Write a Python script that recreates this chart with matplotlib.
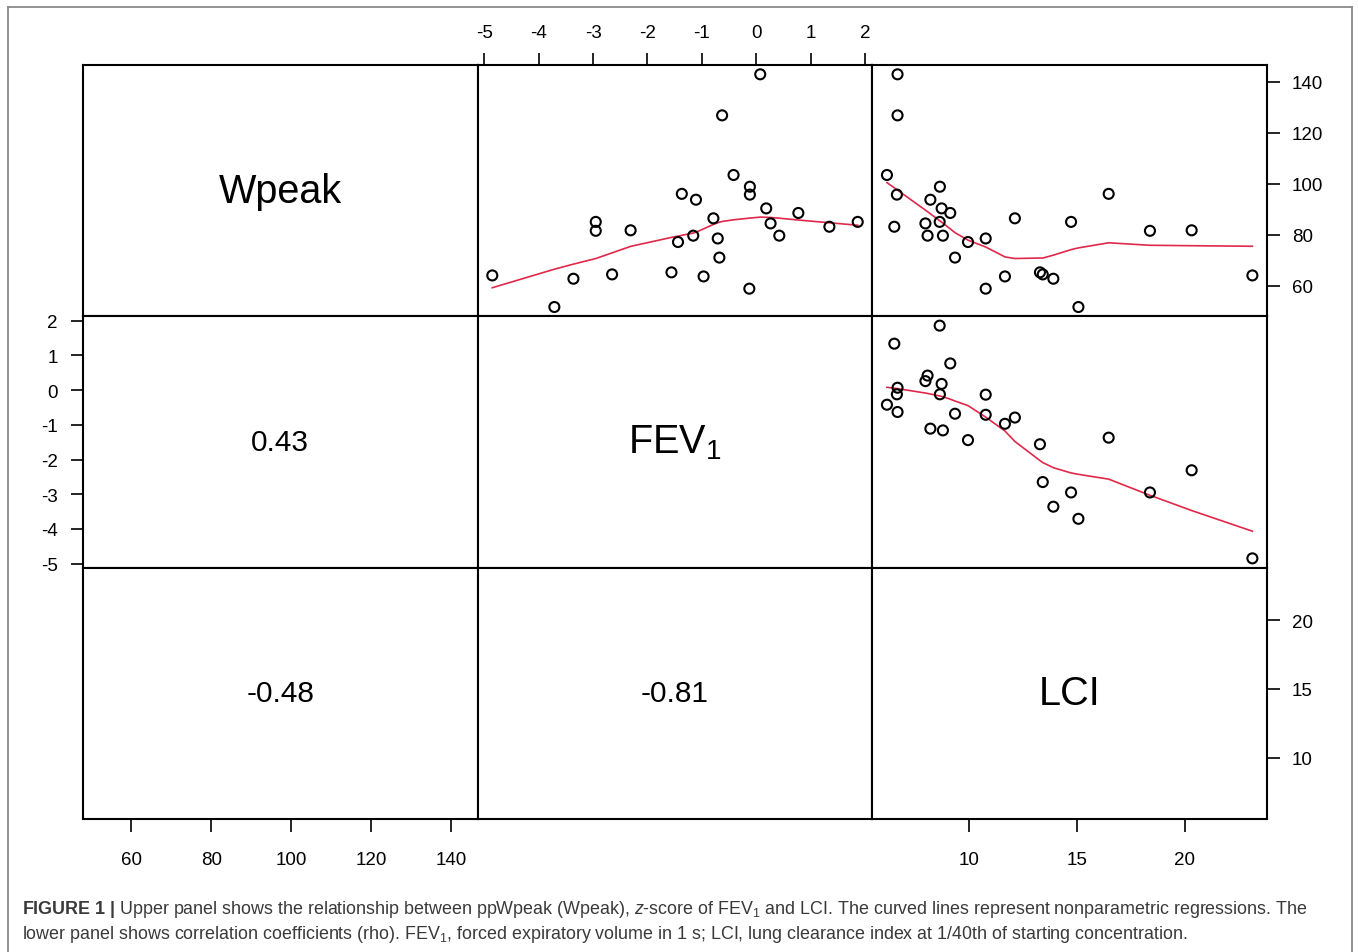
import matplotlib
matplotlib.use("Agg")
import matplotlib.pyplot as plt
import numpy as np

plt.rcParams['font.family'] = ['Liberation Sans', 'DejaVu Sans']
plt.rcParams['axes.unicode_minus'] = False
plt.rcParams['mathtext.fontset'] = 'custom'
plt.rcParams['mathtext.rm'] = 'Liberation Sans'
plt.rcParams['mathtext.it'] = 'Liberation Sans:italic'
plt.rcParams['mathtext.bf'] = 'Liberation Sans:bold'
plt.rcParams['mathtext.default'] = 'regular'

# per-subject values
wpeak = [64.0, 51.6, 62.7, 85.0, 81.5, 64.4, 81.7, 65.2, 77.1, 96.0,
         79.6, 93.7, 63.6, 86.4, 78.5, 71.0, 126.8, 103.4, 58.8, 98.8,
         95.7, 142.9, 90.3, 84.4, 79.6, 88.5, 83.1, 85.0]
fev1 = [-4.85, -3.71, -3.36, -2.95, -2.95, -2.65, -2.31, -1.56, -1.44, -1.37,
        -1.16, -1.11, -0.97, -0.79, -0.71, -0.68, -0.63, -0.42, -0.13, -0.12,
        -0.12, 0.07, 0.18, 0.26, 0.42, 0.77, 1.34, 1.86]
lci = [23.13, 15.08, 13.92, 14.74, 18.39, 13.43, 20.32, 13.30, 9.97, 16.48,
       8.81, 8.23, 11.68, 12.14, 10.79, 9.37, 6.71, 6.22, 10.79, 8.67,
       6.68, 6.71, 8.75, 8.00, 8.10, 9.15, 6.56, 8.66]

var_names = ['Wpeak', 'FEV$_1$', 'LCI']
rho = {(1, 0): '0.43', (2, 0): '-0.48', (2, 1): '-0.81'}
ticks = [[60, 80, 100, 120, 140], [-5, -4, -3, -2, -1, 0, 1, 2], [10, 15, 20]]

caption1 = (r"$\mathbf{FIGURE\ 1\ |}$ Upper panel shows the relationship between ppWpeak (Wpeak), "
            r"$\mathit{z}$-score of FEV$_1$ and LCI. The curved lines represent nonparametric regressions. The")
caption2 = ("lower panel shows correlation coefficients (rho). FEV$_1$, forced expiratory volume in 1 s; "
            "LCI, lung clearance index at 1/40th of starting concentration.")


def _lowest(x, y, xs, nleft, nright, rw, userw):
    n = len(x)
    h = max(xs - x[nleft], x[nright] - xs)
    h9, h1 = 0.999 * h, 0.001 * h
    w = np.zeros(n)
    a = 0.0
    j = nleft
    while j < n:
        r = abs(x[j] - xs)
        if r <= h9:
            w[j] = 1.0 if r <= h1 else (1 - (r / h) ** 3) ** 3
            if userw:
                w[j] *= rw[j]
            a += w[j]
        elif x[j] > xs:
            break
        j += 1
    nrt = j - 1
    if a <= 0:
        return None
    sl = slice(nleft, nrt + 1)
    w[sl] /= a
    if h > 0:
        a = np.sum(w[sl] * x[sl])
        b = xs - a
        c = np.sum(w[sl] * (x[sl] - a) ** 2)
        if np.sqrt(c) > 0.001 * (x[-1] - x[0]):
            b /= c
            w[sl] *= b * (x[sl] - a) + 1
    return np.sum(w[sl] * y[sl])


def lowess(x, y, f=2 / 3, niter=3):
    # same steps as R's lowess(), used by panel.smooth
    order = np.argsort(x, kind='stable')
    x = np.asarray(x, float)[order]
    y = np.asarray(y, float)[order]
    n = len(x)
    delta = 0.01 * (x[-1] - x[0])
    ns = max(2, min(n, int(f * n + 1e-7)))
    rw = np.ones(n)
    ys = np.zeros(n)
    for it in range(niter + 1):
        nleft, nright, last, i = 0, ns - 1, -1, 0
        while True:
            if nright < n - 1:
                if x[i] - x[nleft] > x[nright + 1] - x[i]:
                    nleft += 1
                    nright += 1
                    continue
            val = _lowest(x, y, x[i], nleft, nright, rw, it > 0)
            ys[i] = y[i] if val is None else val
            if last < i - 1:
                denom = x[i] - x[last]
                for j in range(last + 1, i):
                    al = (x[j] - x[last]) / denom
                    ys[j] = al * ys[i] + (1 - al) * ys[last]
            last = i
            cut = x[last] + delta
            i = last + 1
            while i < n:
                if x[i] > cut:
                    break
                if x[i] == x[last]:
                    ys[i] = ys[last]
                    last = i
                i += 1
            i = max(last + 1, i - 1)
            if last >= n - 1:
                break
        if it >= niter:
            break
        res = np.abs(y - ys)
        sc = res.sum() / n
        cmad = 6 * np.median(res)
        if cmad < 1e-7 * sc:
            break
        rw = np.where(res <= 0.001 * cmad, 1.0,
                      np.where(res <= 0.999 * cmad, (1 - (res / cmad) ** 2) ** 2, 0.0))
    return x, ys


data = [np.array(wpeak), np.array(fev1), np.array(lci)]
lims = []
for d in data:
    pad = 0.04 * (d.max() - d.min())
    lims.append((d.min() - pad, d.max() + pad))

fig = plt.figure(figsize=(13.58, 9.53), dpi=100)
axes = fig.subplots(3, 3, gridspec_kw=dict(wspace=0, hspace=0))
fig.subplots_adjust(left=83 / 1358, right=1267 / 1358, top=1 - 66 / 953, bottom=1 - 820 / 953)

for r in range(3):
    for c in range(3):
        ax = axes[r, c]
        ax.set_xlim(lims[c])
        ax.set_ylim(lims[r])
        for s in ax.spines.values():
            s.set_linewidth(1.5)
        ax.tick_params(length=9, width=1.2, labelsize=13.5, colors='black')
        ax.set_xticks([])
        ax.set_yticks([])
        if r == c:
            ax.text(0.5, 0.5, var_names[r], transform=ax.transAxes, ha='center', va='center', fontsize=28.5)
        elif r > c:
            ax.text(0.5, 0.5, rho[(r, c)], transform=ax.transAxes, ha='center', va='center', fontsize=21.5)
        else:
            ax.scatter(data[c], data[r], s=52, facecolors='none', edgecolors='black', linewidths=1.5, zorder=3)
            lx, ly = lowess(data[c], data[r])
            ax.plot(lx, ly, color='#e0284a', lw=1.2, zorder=2)

# outer axes like R's pairs(): alternating sides
axes[2, 0].set_xticks(ticks[0])
axes[2, 2].set_xticks(ticks[2])
axes[2, 0].tick_params(axis='x', pad=14)
axes[2, 2].tick_params(axis='x', pad=14)
axes[0, 1].xaxis.tick_top()
axes[0, 1].set_xticks(ticks[1])
axes[0, 1].tick_params(axis='x', pad=8)
axes[1, 0].set_yticks(ticks[1])
axes[1, 0].tick_params(axis='y', pad=9)
for r in (0, 2):
    ax = axes[r, 2]
    ax.yaxis.tick_right()
    ax.set_yticks(ticks[r])
    ax.tick_params(axis='y', pad=9)

# figure frame (bottom edge is cropped off)
fr = dict(color='#8a8a8a', lw=1.3, transform=fig.transFigure, clip_on=False)
fig.add_artist(plt.Line2D([8 / 1358, 8 / 1358], [0, 1 - 8 / 953], **fr))
fig.add_artist(plt.Line2D([8 / 1358, 1352 / 1358], [1 - 8 / 953, 1 - 8 / 953], **fr))
fig.add_artist(plt.Line2D([1352 / 1358, 1352 / 1358], [0, 1 - 8 / 953], **fr))

fig.text(22 / 1358, 1 - 910 / 953, caption1, fontsize=12.9, color='#3a3a3a', va='center', ha='left')
fig.text(22 / 1358, 1 - 935 / 953, caption2, fontsize=12.9, color='#3a3a3a', va='center', ha='left')

fig.savefig('out.png', dpi=100)
